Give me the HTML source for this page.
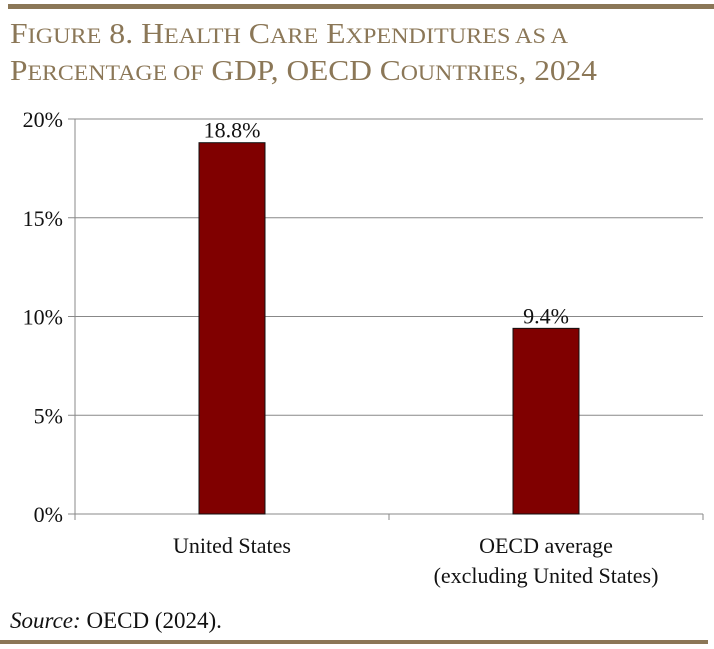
<!DOCTYPE html>
<html><head><meta charset="utf-8"><style>
html,body{margin:0;padding:0;background:#fff;}
svg{display:block;font-family:"Liberation Serif",serif;}
</style></head><body>
<svg width="714" height="649" viewBox="0 0 714 649">
<rect x="8" y="4" width="706" height="5" fill="#8b7757"/>
<text x="10" y="43" font-size="29" fill="#8b7757" textLength="558" lengthAdjust="spacingAndGlyphs">F<tspan font-size="22">IGURE</tspan> 8. H<tspan font-size="22">EALTH</tspan> C<tspan font-size="22">ARE</tspan> E<tspan font-size="22">XPENDITURES AS A</tspan></text>
<text x="10" y="80" font-size="29" fill="#8b7757" textLength="587" lengthAdjust="spacingAndGlyphs">P<tspan font-size="22">ERCENTAGE OF</tspan> GDP, OECD C<tspan font-size="22">OUNTRIES</tspan>, 2024</text>
<g id="plot"></g>
<text x="10" y="628" font-size="23" fill="#111"><tspan font-style="italic">Source:</tspan> OECD (2024).</text>
<rect x="0" y="640" width="708" height="4" fill="#8b7757"/>
</svg>
<script>
const categories=["United States","OECD average|(excluding United States)"];
const values=[18.8,9.4];
const valueLabels=["18.8%","9.4%"];
const yTicks=[0,5,10,15,20];
const yTickLabels=["0%","5%","10%","15%","20%"];
const NS="http://www.w3.org/2000/svg";
const g=document.getElementById("plot");
const x0=75,x1=703,yBase=514,yTop=119,yMax=20;
const y=v=>yBase-(v/yMax)*(yBase-yTop);
const band=(x1-x0)/categories.length;
const xc=i=>x0+band*(i+0.5);
function mk(t,a){const e=document.createElementNS(NS,t);for(const k in a)e.setAttribute(k,a[k]);g.appendChild(e);return e;}
yTicks.forEach((t,i)=>{
 const gl=mk("line",{x1:x0,x2:x1,y1:y(t),y2:y(t),stroke:"#888","stroke-width":1});
 
 
 const tk=mk("line",{x1:x0-7,x2:x0,y1:y(t),y2:y(t),stroke:"#888","stroke-width":1});
 
 
 const lb=mk("text",{x:x0-12,y:y(t)+8,"font-size":22,"text-anchor":"end",fill:"#111"});
 lb.textContent=yTickLabels[i];
 
 
});
const ax=mk("line",{x1:x0,x2:x0,y1:yTop,y2:yBase+6,stroke:"#888","stroke-width":1});


for(let i=0;i<=categories.length;i++){
 const ct=mk("line",{x1:x0+band*i,x2:x0+band*i,y1:yBase,y2:yBase+6,stroke:"#888","stroke-width":1});
 
 
}
const bw=66;
values.forEach((v,i)=>{
 const r=mk("rect",{x:xc(i)-bw/2,y:y(v),width:bw,height:yBase-y(v),fill:"#800000",stroke:"#111","stroke-width":1});
 
 
 const t=mk("text",{x:xc(i),y:y(v)-5,"font-size":22,"text-anchor":"middle",fill:"#111"});
 t.textContent=valueLabels[i];
 
 
 categories[i].split("|").forEach((ln,j)=>{
  const c=mk("text",{x:xc(i),y:553+j*30,"font-size":22,"text-anchor":"middle",fill:"#111"});
  c.textContent=ln;
  
  
 });
});
</script>
</body></html>
